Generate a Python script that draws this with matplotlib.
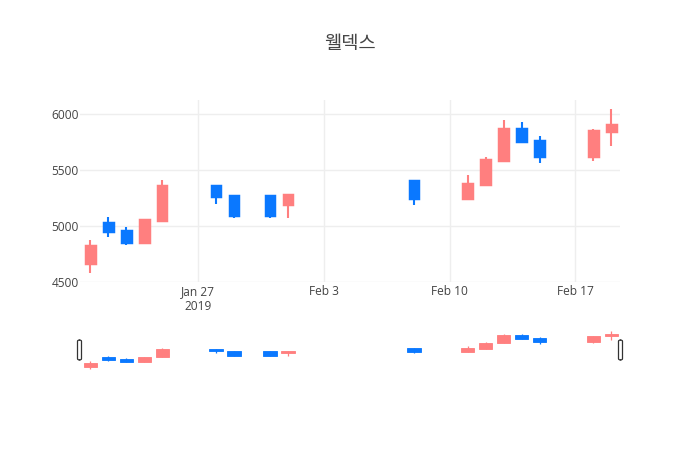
import matplotlib
matplotlib.use("Agg")
import matplotlib.pyplot as plt
import matplotlib.dates as mdates
from matplotlib.patches import Rectangle, FancyBboxPatch
import numpy as np
import pandas as pd

title = "웰덱스"
dates = ["2019-01-21", "2019-01-22", "2019-01-23", "2019-01-24", "2019-01-25",
         "2019-01-28", "2019-01-29", "2019-01-31", "2019-02-01", "2019-02-08",
         "2019-02-11", "2019-02-12", "2019-02-13", "2019-02-14", "2019-02-15",
         "2019-02-18", "2019-02-19"]
open_ = [4663, 5040, 4960, 4850, 5045, 5370, 5280, 5280, 5190, 5410,
         5245, 5370, 5580, 5875, 5765, 5620, 5840]
high = [4875, 5078, 4988, 5060, 5410, 5370, 5280, 5280, 5290, 5410,
        5455, 5615, 5950, 5925, 5805, 5865, 6045]
low = [4583, 4905, 4833, 4845, 5045, 5200, 5075, 5075, 5075, 5190,
       5245, 5360, 5580, 5740, 5560, 5580, 5715]
close = [4830, 4945, 4850, 5060, 5370, 5260, 5090, 5090, 5290, 5245,
         5385, 5595, 5875, 5750, 5620, 5855, 5915]
xtick_dates = ["2019-01-27", "2019-02-03", "2019-02-10", "2019-02-17"]
xtick_labels = ["Jan 27\n2019", "Feb 3", "Feb 10", "Feb 17"]
yticks = [4500, 5000, 5500, 6000]

UP = "#FF7F7F"
DOWN = "#0A78FF"
TXT = "#444444"
GRID = "#EEEEEE"

x = mdates.date2num(pd.to_datetime(dates))
xt = mdates.date2num(pd.to_datetime(xtick_dates))
xlim = (x[0] - 0.58, x[-1] + 0.48)
ylim = (4505, 6125)

fig = plt.figure(figsize=(7, 4.5), dpi=100)
W, H = 700, 450
def fr(l, t, r, b):
    return [l / W, 1 - b / H, (r - l) / W, (b - t) / H]

ax = fig.add_axes(fr(80, 100, 620, 282))
sl = fig.add_axes(fr(80, 329, 620, 371))

def draw(a, body_w, lw, zorder=3):
    for xi, o, h, l, c in zip(x, open_, high, low, close):
        col = UP if c >= o else DOWN
        a.vlines(xi, l, h, color=col, lw=lw, zorder=zorder)
        bot, top = min(o, c), max(o, c)
        a.add_patch(Rectangle((xi - body_w / 2, bot), body_w, max(top - bot, 1),
                              facecolor=col, edgecolor=col, lw=lw * 0.7, zorder=zorder + 1))

draw(ax, 0.58, 1.5)
ax.set_xlim(*xlim)
ax.set_ylim(*ylim)
ax.set_xticks(xt)
ax.set_xticklabels(xtick_labels)
ax.set_yticks(yticks)
ax.set_yticklabels([str(v) for v in yticks])
ax.grid(True, color=GRID, lw=1)
ax.set_axisbelow(True)
for s in ax.spines.values():
    s.set_visible(False)
ax.tick_params(length=0, colors=TXT, labelsize=8.6, pad=2)
for lab in ax.get_xticklabels() + ax.get_yticklabels():
    lab.set_family("Open Sans")
    lab.set_color(TXT)
ax.tick_params(axis="x", pad=2)
ax.tick_params(axis="y", pad=1)

draw(sl, 0.75, 0.9)
sl.set_xlim(*xlim)
sl.set_ylim(*ylim)
sl.set_xticks([])
sl.set_yticks([])
for s in sl.spines.values():
    s.set_visible(False)

for (l, r) in [(77.5, 81.5), (618.5, 622.5)]:
    fig.patches.append(FancyBboxPatch((l / W, 1 - 360 / H), (r - l) / W, 20 / H,
                                      boxstyle="round,pad=0,rounding_size=0.003",
                                      transform=fig.transFigure, facecolor="white",
                                      edgecolor="#333333", lw=0.9, zorder=10))

fig.text(0.5, 1 - 43 / H, title, ha="center", va="center", fontsize=13.5,
         color=TXT, family=["Noto Sans CJK KR", "DejaVu Sans"])

fig.savefig("out.png", dpi=100, facecolor="white")
